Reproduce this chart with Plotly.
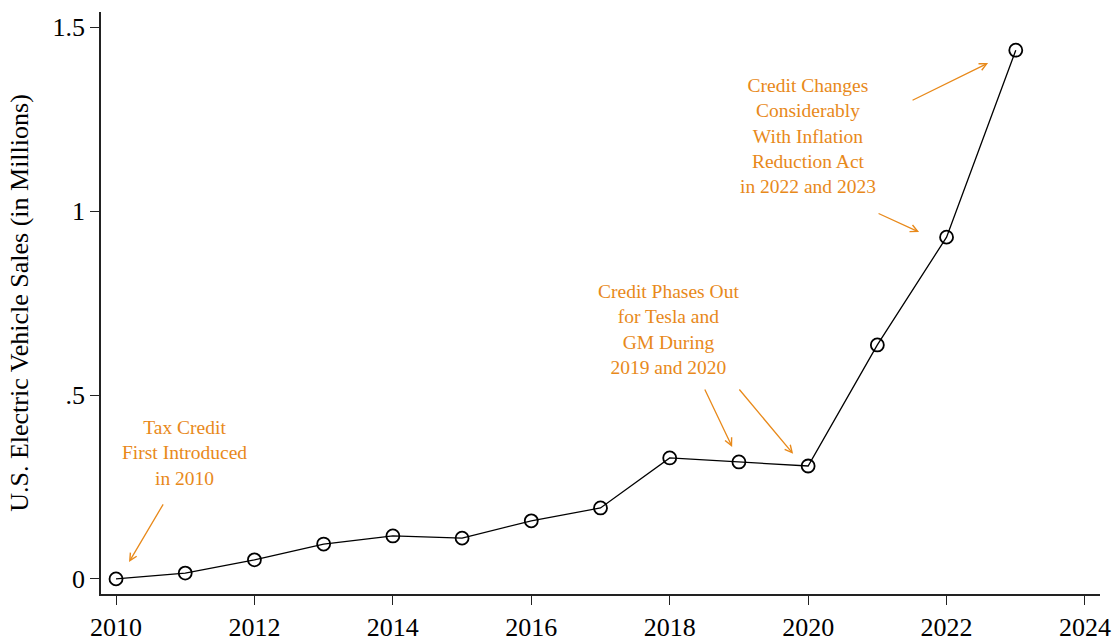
import plotly.graph_objects as go

years = [2010, 2011, 2012, 2013, 2014, 2015, 2016, 2017, 2018, 2019, 2020, 2021, 2022, 2023]
sales = [0.0003, 0.016, 0.052, 0.095, 0.117, 0.111, 0.158, 0.193, 0.329, 0.318, 0.307, 0.636, 0.929, 1.437]

x_ticks = [2010, 2012, 2014, 2016, 2018, 2020, 2022, 2024]
y_ticks = [0, 0.5, 1, 1.5]
y_tick_labels = ["0", ".5", "1", "1.5"]

orange = "#E8891A"
font_family = "Liberation Serif, Times New Roman, serif"

labels = [
    dict(x=2010.983, y=0.342, text="Tax Credit<br>First Introduced<br>in 2010"),
    dict(x=2017.986, y=0.677, text="Credit Phases Out<br>for Tesla and<br>GM During<br>2019 and 2020"),
    dict(x=2019.991, y=1.204, text="Credit Changes<br>Considerably<br>With Inflation<br>Reduction Act<br>in 2022 and 2023"),
]
arrows = [
    # (tail_x, tail_y, head_x, head_y)
    (2010.694, 0.207, 2010.188, 0.046),
    (2018.497, 0.519, 2018.902, 0.359),
    (2018.988, 0.519, 2019.783, 0.340),
    (2021.487, 1.299, 2022.600, 1.402),
    (2020.996, 0.995, 2021.603, 0.943),
]

fig = go.Figure()
fig.add_trace(go.Scatter(
    x=years, y=sales, mode="lines+markers",
    line=dict(color="black", width=1.3),
    marker=dict(symbol="circle-open", size=13, color="black", line=dict(width=1.8)),
    showlegend=False,
))

annotations = []
for lab in labels:
    annotations.append(dict(x=lab["x"], y=lab["y"], xref="x", yref="y", text=lab["text"],
                            showarrow=False, align="center",
                            font=dict(family=font_family, size=19.5, color=orange)))
for tx, ty, hx, hy in arrows:
    annotations.append(dict(x=hx, y=hy, ax=tx, ay=ty, xref="x", yref="y", axref="x", ayref="y",
                            text="", showarrow=True, arrowhead=5, arrowsize=1.1, arrowwidth=1.3,
                            arrowcolor=orange, standoff=0, startstandoff=0))

fig.update_layout(
    width=1118, height=641,
    margin=dict(l=101, r=18, t=12, b=47),
    paper_bgcolor="white", plot_bgcolor="white",
    font=dict(family=font_family, size=26, color="black"),
    annotations=annotations,
    xaxis=dict(range=[2009.783, 2024.217], tickvals=x_ticks, ticks="outside", ticklen=9,
               tickwidth=1.3, tickcolor="#222", showline=True, linecolor="#222", linewidth=1.5,
               showgrid=False, zeroline=False, tickfont=dict(size=26), automargin=False),
    yaxis=dict(range=[-0.0408, 1.5408], tickvals=y_ticks, ticktext=y_tick_labels, ticks="outside",
               ticklen=9, tickwidth=1.3, tickcolor="#222", showline=True, linecolor="#222",
               linewidth=1.5, showgrid=False, zeroline=False, tickfont=dict(size=26), automargin=False,
               title=dict(text="U.S. Electric Vehicle Sales (in Millions)", font=dict(size=26), standoff=16)),
)

fig.write_html("out.html", config={"displayModeBar": False},
               post_script="document.body.style.margin='0';document.body.style.overflow='hidden';")
